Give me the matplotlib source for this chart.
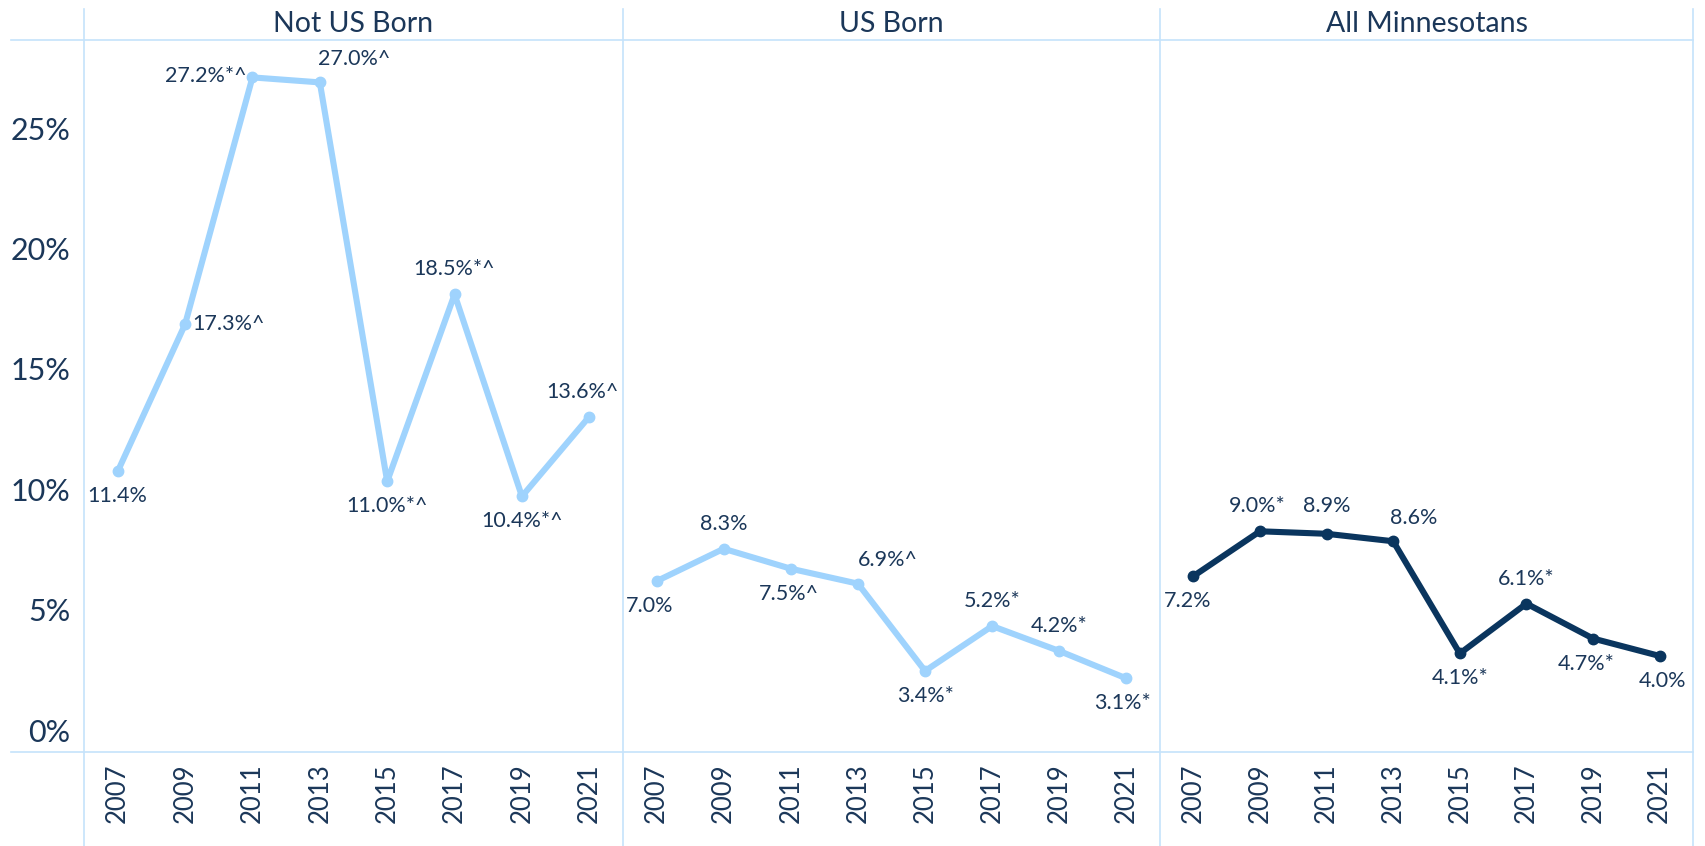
import numpy as np
import matplotlib
matplotlib.use("Agg")
import matplotlib.pyplot as plt
from matplotlib.lines import Line2D

plt.rcParams['font.family'] = ['Lato', 'DejaVu Sans']

# data
jaksot = ["Not US Born", "US Born", "All Minnesotans"]
vuodet = ["2007", "2009", "2011", "2013", "2015", "2017", "2019", "2021"]

not_us_born = [11.4, 17.3, 27.2, 27.0, 11.0, 18.5, 10.4, 13.6]
us_born = [7.0, 8.3, 7.5, 6.9, 3.4, 5.2, 4.2, 3.1]
all_mn = [7.2, 9.0, 8.9, 8.6, 4.1, 6.1, 4.7, 4.0]

# merkinnat (* ja ^) datapisteiden perässä
not_us_merk = ["", "^", "*^", "^", "*^", "*^", "*^", "^"]
us_merk = ["", "", "^", "^", "*", "*", "*", "*"]
all_merk = ["", "*", "", "", "*", "*", "*", ""]

y_tekstit = ["0%", "5%", "10%", "15%", "20%", "25%"]

sarjat = [not_us_born, us_born, all_mn]
merkit = [not_us_merk, us_merk, all_merk]

# tekstien paikat (dx, dy pisteinä, tasaus)
paikat = [
    [(0, -18, 'center'), (5, 0, 'left'), (-4, 1, 'right'), (-1, 17, 'left'),
     (0, -18, 'center'), (0, 18, 'center'), (0, -18, 'center'), (-5, 18, 'center')],
    [(-5, -18, 'center'), (0, 18, 'center'), (-1, -18, 'center'), (0, 17, 'left'),
     (0, -18, 'center'), (0, 18, 'center'), (0, 18, 'center'), (-3, -18, 'center')],
    [(-4, -18, 'center'), (-2, 18, 'center'), (0, 20, 'center'), (15, 17, 'center'),
     (0, -18, 'center'), (0, 18, 'center'), (-5, -18, 'center'), (2, -18, 'center')],
]

vaalea = '#9fd3fd'
tumma = '#0a355e'
teksti = '#1b3759'
viiva = '#c5e3fb'
varit = [vaalea, vaalea, tumma]

W, H = 1705, 846
fig = plt.figure(figsize=(W / 100, H / 100), dpi=100)

reunat = [84, 623, 1160, 1693]
ala, yla = 752, 40

axes = []
for i in range(3):
    x0 = reunat[i] / W
    w = (reunat[i + 1] - reunat[i]) / W
    ax = fig.add_axes([x0, 1 - ala / H, w, (ala - yla) / H])
    axes.append(ax)

for i, ax in enumerate(axes):
    x = np.arange(len(vuodet))
    ax.plot(x, sarjat[i], color=varit[i], lw=4.4, marker='o', ms=7.5,
            solid_capstyle='round', solid_joinstyle='round')
    for j, (v, m) in enumerate(zip(sarjat[i], merkit[i])):
        dx, dy, ha = paikat[i][j]
        ax.annotate(f"{v:.1f}%{m}", (j, v), xytext=(dx, dy), textcoords='offset points',
                    ha=ha, va='center', fontsize=15.5, color=teksti)
    ax.set_xlim(-0.5, len(vuodet) - 0.5)
    ax.set_ylim(0.15, 28.7)
    ax.set_xticks(x)
    ax.set_xticklabels(vuodet, rotation=90, fontsize=18.5, color=teksti)
    ax.tick_params(axis='both', length=0)
    ax.tick_params(axis='x', pad=8)
    for s in ax.spines.values():
        s.set_visible(False)
    ax.set_facecolor('none')
    if i == 0:
        # tekstit hieman ylempänä kuin arvot, kuten alkuperäisessä
        ax.set_yticks(np.linspace(1.02, 25.17, len(y_tekstit)))
        ax.set_yticklabels(y_tekstit, fontsize=22, color=teksti)
        ax.tick_params(axis='y', pad=10)
    else:
        ax.set_yticks([])
    # otsikko ylälaidan kaistaan
    ax.text(0.5, 1 + 16 / (ala - yla), jaksot[i], transform=ax.transAxes,
            ha='center', va='center', fontsize=20.5, color=teksti)

# kehysviivat
for xr in reunat:
    fig.add_artist(Line2D([xr / W, xr / W], [0, 1 - 9 / H], color=viiva, lw=1.2))
for yr in [yla, ala]:
    fig.add_artist(Line2D([11 / W, reunat[-1] / W], [1 - yr / H, 1 - yr / H], color=viiva, lw=1.2))

fig.savefig("out.png", dpi=100)
